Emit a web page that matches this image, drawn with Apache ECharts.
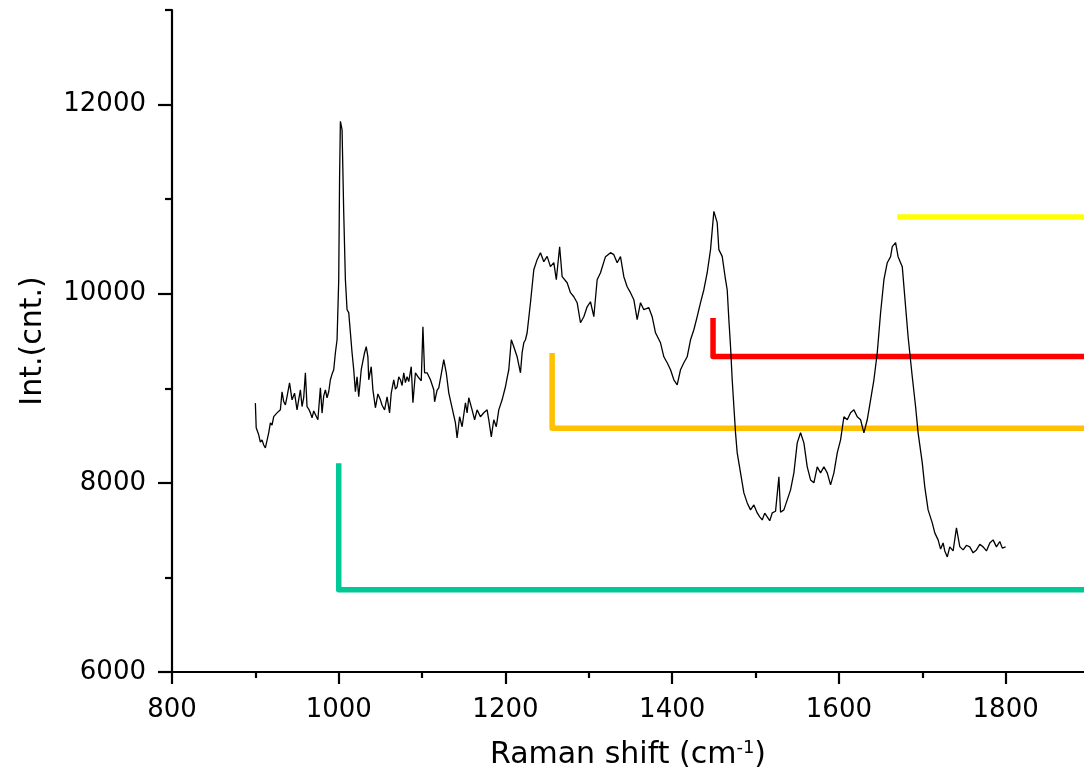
<!DOCTYPE html>
<html><head><meta charset="utf-8">
<script src="https://cdn.jsdelivr.net/npm/echarts@6/dist/echarts.min.js"></script>
<style>html,body{margin:0;padding:0;background:#fff}#c{width:1084px;height:780px}</style>
</head><body><div id="c"></div>
<script>
// Raman spectrum
const ramanShift = [900,901,904,906,908,910,912,914,916,918,920,922,924,926,928,930,932,934,936,938,941,944,947,950,952,954,956,958,960,962,964,966,968,970,972,975,978,980,982,984,986,988,990,992,994,996,998,1000,1001,1002,1004,1006,1008,1010,1012,1014,1016,1018,1020,1022,1024,1027,1031,1033,1035,1036,1039,1041,1044,1047,1050,1052,1055,1058,1061,1063,1066,1068,1070,1072,1074,1076,1078,1080,1082,1084,1087,1089,1092,1096,1099,1101,1103,1106,1110,1114,1115,1118,1120,1123,1126,1129,1132,1136,1140,1142,1145,1148,1152,1154,1156,1160,1163,1166,1170,1174,1178,1180,1183,1186,1189,1192,1196,1200,1202,1204,1207,1210,1214,1218,1220,1222,1224,1226,1230,1234,1238,1242,1246,1250,1254,1258,1261,1265,1268,1274,1278,1282,1286,1290,1294,1298,1302,1306,1310,1314,1320,1326,1330,1334,1338,1342,1346,1350,1354,1358,1362,1366,1372,1376,1380,1386,1390,1394,1398,1402,1406,1410,1414,1418,1422,1426,1430,1434,1438,1442,1446,1450,1454,1456,1460,1464,1466,1468,1470,1472,1474,1476,1478,1482,1486,1490,1494,1498,1502,1505,1508,1511,1514,1517,1520,1524,1528,1530,1534,1538,1542,1546,1550,1554,1558,1562,1566,1570,1574,1578,1582,1586,1590,1594,1598,1602,1606,1610,1614,1618,1622,1626,1630,1634,1638,1642,1646,1650,1654,1658,1662,1664,1668,1671,1676,1680,1683,1688,1692,1695,1700,1703,1707,1712,1715,1719,1722,1725,1727,1730,1733,1737,1741,1745,1749,1753,1757,1761,1765,1769,1773,1777,1781,1785,1789,1793,1796,1800];
const intensity = [8843,8582,8508,8430,8455,8400,8370,8450,8529,8635,8610,8700,8680,8740,8720,8772,8963,8860,8825,8913,9058,8878,8949,8772,8880,8984,8807,8900,9164,8805,8780,8740,8688,8760,8772,8667,9005,8738,8920,8984,8900,8963,9090,9150,9196,9376,9513,10148,11206,11823,11735,10857,10148,9831,9800,9588,9376,9196,8963,9122,8910,9196,9376,9440,9333,9090,9228,8984,8794,8940,8878,8820,8772,8910,8740,8950,9090,8990,9016,9120,9090,9030,9164,9060,9122,9070,9228,8847,9164,9111,9080,9651,9164,9164,9090,8984,8857,8980,9005,9150,9302,9164,8952,8794,8635,8476,8699,8593,8847,8740,8900,8772,8667,8772,8699,8741,8772,8667,8487,8667,8593,8772,8878,9016,9111,9196,9513,9440,9333,9164,9376,9481,9513,9587,9905,10254,10360,10434,10339,10395,10286,10328,10148,10497,10180,10116,10011,9968,9905,9693,9757,9862,9915,9757,10148,10222,10392,10434,10413,10328,10392,10180,10074,10011,9937,9725,9905,9831,9852,9757,9587,9481,9333,9270,9196,9090,9037,9196,9270,9333,9513,9619,9757,9905,10042,10222,10466,10871,10751,10466,10395,10148,10042,9725,9442,9090,8807,8529,8317,8106,7894,7788,7714,7767,7682,7640,7608,7680,7640,7600,7682,7700,8063,7690,7714,7820,7926,8106,8423,8529,8423,8169,8031,8000,8169,8106,8169,8106,7979,8106,8317,8455,8699,8667,8741,8772,8699,8667,8529,8667,8878,9090,9376,9799,10148,10328,10392,10497,10540,10392,10286,9862,9545,9122,8805,8529,8212,7958,7714,7577,7471,7397,7300,7365,7280,7217,7323,7280,7524,7326,7291,7340,7323,7260,7291,7350,7323,7280,7365,7397,7323,7380,7310,7323];

// Axis ticks
const xMajorTicks = [800,1000,1200,1400,1600,1800];
const xMinorTicks = [900,1100,1300,1500,1700];
const yMajorTicks = [6000,8000,10000,12000];
const yMinorTicks = [7000,9000,11000,13000];
const xMin = 800, xMax = 1894, yMin = 6000, yMax = 13000;

// Band markers (L-shaped guide lines)
const greenX = [1000,1000,1894];   const greenY = [8208,6871,6871];
const orangeX = [1256,1256,1894];  const orangeY = [9372,8578,8578];
const redX = [1449,1449,1894];     const redY = [9743,9335,9335];
const yellowX = [1670,1894];       const yellowY = [10810,10810];

const zip = (a,b) => a.map((v,i)=>[v,b[i]]);
const FONT = 'DejaVu Sans';
const plain = v => String(v);

const chart = echarts.init(document.getElementById('c'), null, {renderer:'canvas'});
const axisLine = {show:true, lineStyle:{color:'#000', width:2.2}};
const bracket = (xs, ys, color) => ({
  type:'line', data: zip(xs, ys), showSymbol:false, symbol:'none', silent:true,
  lineStyle:{color, width:5.5, cap:'butt', join:'round'}, z:1, animation:false
});
chart.setOption({
  animation:false,
  backgroundColor:'#fff',
  grid:{left:172, right:0, top:10, bottom:108, containLabel:false},
  xAxis:[{
    type:'value', min:xMin, max:xMax, interval:200,
    axisLine, splitLine:{show:false},
    axisTick:{show:true, length:12, lineStyle:{color:'#000', width:2.2}, customValues:xMajorTicks},
    axisLabel:{color:'#000', fontFamily:FONT, fontSize:26, margin:25, formatter:plain, customValues:xMajorTicks},
    name:'{a|Raman shift (cm}{b|-1}{a|)}', nameLocation:'middle', nameGap:67,
    nameTextStyle:{rich:{a:{fontFamily:FONT, fontSize:30, color:'#000'}, b:{fontFamily:FONT, fontSize:18, color:'#000', verticalAlign:'top', padding:[0,0,14,0]}}}
  },{
    type:'value', min:xMin, max:xMax, position:'bottom',
    axisLine:{show:false}, splitLine:{show:false}, axisLabel:{show:false},
    axisTick:{show:true, length:6, lineStyle:{color:'#000', width:2.2}, customValues:xMinorTicks}
  }],
  yAxis:[{
    type:'value', min:yMin, max:yMax, interval:2000,
    axisLine, splitLine:{show:false},
    axisTick:{show:true, length:14, lineStyle:{color:'#000', width:2.2}, customValues:yMajorTicks},
    axisLabel:{color:'#000', fontFamily:FONT, fontSize:26, margin:26, formatter:plain, customValues:yMajorTicks},
    name:'Int.(cnt.)', nameLocation:'middle', nameGap:124,
    nameTextStyle:{fontFamily:FONT, fontSize:30, color:'#000'}
  },{
    type:'value', min:yMin, max:yMax, position:'left',
    axisLine:{show:false}, splitLine:{show:false}, axisLabel:{show:false},
    axisTick:{show:true, length:7, lineStyle:{color:'#000', width:2.2}, customValues:yMinorTicks}
  }],
  series:[
    bracket(greenX, greenY, '#00C896'),
    bracket(orangeX, orangeY, '#FFC000'),
    bracket(redX, redY, '#FF0000'),
    bracket(yellowX, yellowY, '#FFFF00'),
    {type:'line', data: zip(ramanShift, intensity), showSymbol:false, symbol:'none',
     lineStyle:{color:'#000', width:1.3}, z:5, animation:false}
  ]
});
</script></body></html>
